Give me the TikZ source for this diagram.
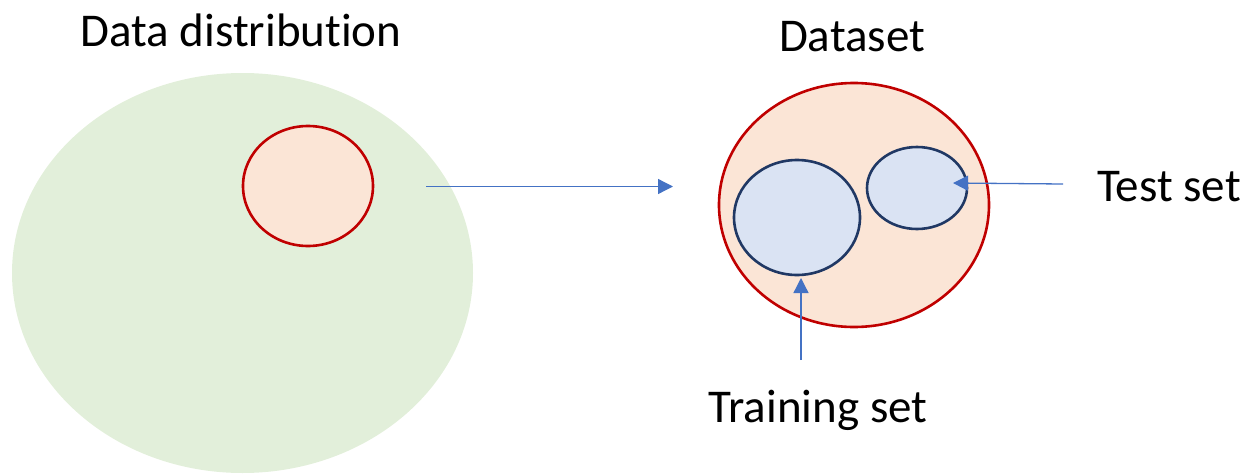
\documentclass[tikz,border=0pt]{standalone}
\usepackage{fontspec}
\setmainfont{Carlito}[Ligatures=NoCommon]
\usetikzlibrary{shapes.geometric,arrows.meta}
\definecolor{distgreen}{HTML}{E2EFDA}
\definecolor{peach}{HTML}{FBE5D6}
\definecolor{darkred}{HTML}{C00000}
\definecolor{paleblue}{HTML}{DAE3F3}
\definecolor{navy}{HTML}{203864}
\definecolor{arrowblue}{HTML}{4472C4}
\tikzset{
  blob/.style={ellipse, inner sep=0pt, outer sep=0pt},
  sample/.style={blob, fill=peach, draw=darkred, line width=2.6pt},
  subset/.style={blob, fill=paleblue, draw=navy, line width=2.6pt},
  label/.style={font=\fontsize{47}{56}\selectfont, inner sep=0pt},
  pointer/.style={draw=arrowblue, line width=1.3pt, -{Triangle[length=15pt,width=15pt]}}
}
\begin{document}
\begin{tikzpicture}[x=1pt,y=-1pt]
\useasboundingbox (0,0) rectangle (1251,474);
\begin{scope}
\clip (0,0) rectangle (1251,474);
% population
\node[blob, fill=distgreen, minimum width=461pt, minimum height=400pt] (dist) at (242.5,273) {};
\end{scope}
\node[sample, minimum width=130pt, minimum height=120pt] (draw) at (308,186) {};
% dataset with its two splits
\node[sample, minimum width=270pt, minimum height=244pt] (data) at (854,205) {};
\node[subset, minimum width=126pt, minimum height=115pt] (train) at (797,217.5) {};
\node[subset, minimum width=100pt, minimum height=82pt] (test) at (917,188) {};
% labels
\node[label] (distlbl) at (241,30) {Data distribution};
\node[label] (datalbl) at (852,37) {Dataset};
\node[label, anchor=west] (testlbl) at (1097,187) {Test set};
\node[label] (trainlbl) at (818,410) {Training set};
% arrows
\coordinate (a1) at (426,186.5);
\coordinate (a2) at (673,186.5);
\draw[pointer] (a1) -- (a2);
\coordinate (t1) at (1063,184);
\coordinate (t2) at (953,183);
\draw[pointer] (t1) -- (t2);
\coordinate (r1) at (801,360);
\coordinate (r2) at (801,278);
\draw[pointer] (r1) -- (r2);
\end{tikzpicture}
\end{document}
